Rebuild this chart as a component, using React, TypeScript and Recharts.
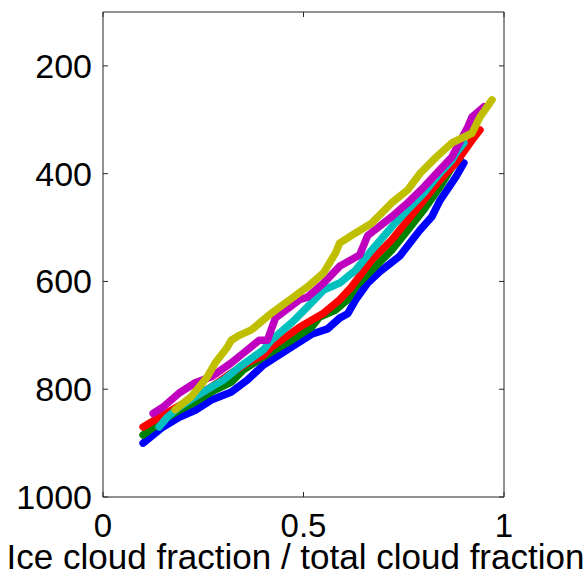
import React from 'react';
import { LineChart, Line, XAxis, YAxis, Label } from 'recharts';

const FONT = '"Liberation Sans", Arial, Helvetica, sans-serif';
const AXIS = '#262626';

const xTicks = [0, 0.5, 1];
const yTicks = [200, 400, 600, 800, 1000];
const xTitle = 'Ice cloud fraction / total cloud fraction';

const blue: [number, number][] = [
  [0.10, 900], [0.15, 870], [0.19, 852], [0.23, 839], [0.27, 820], [0.32, 805],
  [0.36, 783], [0.40, 755], [0.47, 722], [0.52, 698], [0.56, 688], [0.59, 668],
  [0.61, 660], [0.63, 634], [0.66, 603], [0.69, 582], [0.74, 553], [0.79, 505],
  [0.82, 480], [0.84, 450], [0.88, 406], [0.90, 380],
];
const green: [number, number][] = [
  [0.10, 885], [0.15, 857], [0.19, 839], [0.23, 824], [0.27, 805], [0.32, 787],
  [0.35, 764], [0.42, 731], [0.47, 709], [0.52, 685], [0.54, 666], [0.58, 653],
  [0.61, 634], [0.63, 610], [0.67, 579], [0.72, 542], [0.76, 505], [0.80, 467],
  [0.84, 425], [0.87, 388], [0.89, 370],
];
const red: [number, number][] = [
  [0.10, 870], [0.15, 848], [0.23, 814], [0.27, 796], [0.32, 770], [0.36, 751],
  [0.40, 737], [0.42, 722], [0.49, 685], [0.55, 659], [0.59, 634], [0.62, 610],
  [0.67, 560], [0.72, 523], [0.76, 486], [0.80, 449], [0.84, 412], [0.88, 380],
  [0.92, 338], [0.94, 319],
];
const cyan: [number, number][] = [
  [0.14, 870], [0.16, 852], [0.19, 833], [0.23, 814], [0.30, 783], [0.34, 759],
  [0.40, 727], [0.42, 709], [0.47, 677], [0.51, 647], [0.55, 616], [0.59, 603],
  [0.63, 579], [0.67, 542], [0.72, 499], [0.76, 467], [0.80, 436], [0.84, 399],
  [0.87, 375], [0.88, 362], [0.90, 343],
];
const magenta: [number, number][] = [
  [0.125, 845], [0.15, 833], [0.19, 807], [0.23, 788], [0.27, 777], [0.32, 751],
  [0.36, 727], [0.39, 709], [0.41, 709], [0.43, 668], [0.49, 634], [0.51, 629],
  [0.55, 603], [0.59, 572], [0.64, 551], [0.66, 515], [0.72, 480], [0.76, 454],
  [0.80, 425], [0.84, 393], [0.87, 369], [0.91, 313], [0.92, 295], [0.95, 276],
];
const olive: [number, number][] = [
  [0.18, 838], [0.22, 814], [0.26, 777], [0.28, 751], [0.31, 722], [0.32, 709],
  [0.34, 700], [0.37, 690], [0.42, 659], [0.51, 610], [0.55, 584], [0.58, 547],
  [0.59, 529], [0.63, 510], [0.67, 492], [0.72, 454], [0.76, 430], [0.79, 400],
  [0.83, 370], [0.87, 343], [0.92, 325], [0.94, 295], [0.97, 263],
];

// the first series is drawn against the mirrored (top/right) axes so the box frame renders
const seriesList = [
  { name: 'blue', pts: blue, color: '#0000ff', xId: 'top', yId: 'right' },
  { name: 'green', pts: green, color: '#008000', xId: 0, yId: 0 },
  { name: 'red', pts: red, color: '#ff0000', xId: 0, yId: 0 },
  { name: 'cyan', pts: cyan, color: '#00bfbf', xId: 0, yId: 0 },
  { name: 'magenta', pts: magenta, color: '#bf00bf', xId: 0, yId: 0 },
  { name: 'olive', pts: olive, color: '#bfbf00', xId: 0, yId: 0 },
];

const toData = (pts: [number, number][]) => pts.map(([x, y]) => ({ x, y }));

const BottomTick = (props: any) => {
  const { x, y, payload } = props;
  return (
    <g>
      <line x1={x} y1={y} x2={x} y2={y - 5} stroke={AXIS} strokeWidth={1} />
      <text x={x} y={y + 40} textAnchor="middle" fontSize={33} fontFamily={FONT} fill="#000">
        {String(payload.value)}
      </text>
    </g>
  );
};
const TopTick = (props: any) => {
  const { x, y } = props;
  return <line x1={x} y1={y} x2={x} y2={y + 5} stroke={AXIS} strokeWidth={1} />;
};
const LeftTick = (props: any) => {
  const { x, y, payload } = props;
  return (
    <g>
      <line x1={x} y1={y} x2={x + 5} y2={y} stroke={AXIS} strokeWidth={1} />
      <text x={x - 11} y={y + 12} textAnchor="end" fontSize={34} fontFamily={FONT} fill="#000">
        {String(payload.value)}
      </text>
    </g>
  );
};
const RightTick = (props: any) => {
  const { x, y } = props;
  return <line x1={x} y1={y} x2={x - 5} y2={y} stroke={AXIS} strokeWidth={1} />;
};

export default function App() {
  return (
    <div style={{ position: 'absolute', left: 0, top: 0, background: '#fff' }}>
      <LineChart width={586} height={588} margin={{ top: 11, right: 81, bottom: 0, left: 0 }}>
        <XAxis
          dataKey="x"
          type="number"
          domain={[0, 1]}
          ticks={xTicks}
          height={91}
          tickSize={0}
          tickMargin={0}
          tickLine={false}
          axisLine={{ stroke: AXIS, strokeWidth: 1 }}
          tick={<BottomTick />}
          allowDataOverflow
        >
          <Label
            value={xTitle}
            position="insideBottom"
            offset={19}
            dx={-8}
            fontSize={35}
            fontFamily={FONT}
            fill="#000"
          />
        </XAxis>
        <XAxis
          xAxisId="top"
          orientation="top"
          dataKey="x"
          type="number"
          domain={[0, 1]}
          ticks={xTicks}
          height={1}
          tickSize={0}
          tickMargin={0}
          tickLine={false}
          axisLine={{ stroke: AXIS, strokeWidth: 1 }}
          tick={<TopTick />}
          allowDataOverflow
        />
        <YAxis
          type="number"
          domain={[100, 1000]}
          reversed
          ticks={yTicks}
          width={103}
          tickSize={0}
          tickMargin={0}
          tickLine={false}
          axisLine={{ stroke: AXIS, strokeWidth: 1 }}
          tick={<LeftTick />}
          allowDataOverflow
        />
        <YAxis
          yAxisId="right"
          orientation="right"
          type="number"
          domain={[100, 1000]}
          reversed
          ticks={yTicks}
          width={1}
          tickSize={0}
          tickMargin={0}
          tickLine={false}
          axisLine={{ stroke: AXIS, strokeWidth: 1 }}
          tick={<RightTick />}
          allowDataOverflow
        />
        {seriesList.map((s) => (
          <Line
            key={s.name}
            xAxisId={s.xId}
            yAxisId={s.yId}
            data={toData(s.pts)}
            dataKey="y"
            type="linear"
            stroke={s.color}
            strokeWidth={7.5}
            strokeLinejoin="round"
            strokeLinecap="round"
            dot={false}
            activeDot={false}
            isAnimationActive={false}
          />
        ))}
      </LineChart>
    </div>
  );
}
